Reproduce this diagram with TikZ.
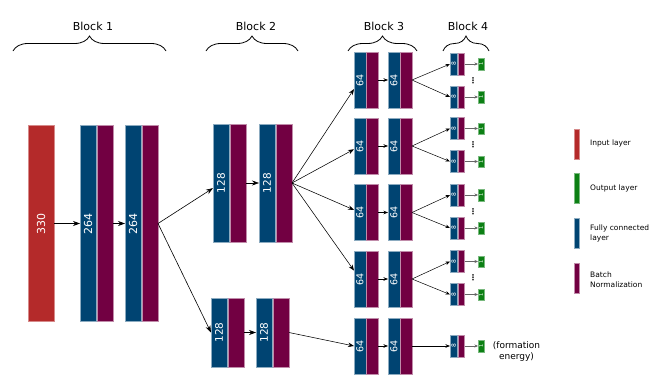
\documentclass[tikz,border=0pt]{standalone}
\usepackage{fontspec}
\setmainfont{DejaVu Sans}
\usetikzlibrary{arrows.meta,decorations.pathreplacing}
\definecolor{inred}{RGB}{180,42,42}
\definecolor{fcblue}{RGB}{0,68,114}
\definecolor{bnpurple}{RGB}{114,0,66}
\definecolor{outgreen}{RGB}{12,128,20}
\begin{document}
\begin{tikzpicture}[x=1pt,y=-1pt]
\tikzset{
  lay/.style={rectangle, inner sep=0pt, outer sep=0pt, line width=0.5pt},
  fcl/.style={lay, fill=fcblue, draw=fcblue!45!white},
  bnl/.style={lay, fill=bnpurple, draw=bnpurple!45!white},
  inl/.style={lay, fill=inred, draw=inred!55!white},
  outl/.style={lay, fill=outgreen, draw=outgreen!55!white},
  sz/.style 2 args={minimum width=#1, minimum height=#2},
  num/.style={text=white, rotate=90, inner sep=0pt},
  bigarr/.style={-{Stealth[length=7pt,width=5pt]}, line width=0.6pt},
  midarr/.style={-{Stealth[length=6pt,width=4.5pt]}, line width=0.55pt},
  smallarr/.style={-{Stealth[length=4.5pt,width=3.5pt]}, line width=0.5pt},
  outarr/.style={-{Stealth[length=3.5pt,width=3pt]}, line width=0.5pt, draw=black!60},
  bracestyle/.style={decorate, decoration={brace, amplitude=15pt}, line width=0.8pt},
  blocktitle/.style={font=\fontsize{11}{13}\selectfont},
  legtext/.style={font=\fontsize{7.5}{10}\selectfont, anchor=west, align=left, inner sep=0pt},
}
\useasboundingbox (0,0) rectangle (665,383);

% Block titles and braces
\draw[bracestyle] (13,51) -- (166,51);
\node[blocktitle] (t1) at (93,26) {Block 1};
\draw[bracestyle] (206,51) -- (298,51);
\node[blocktitle] (t2) at (256,26) {Block 2};
\draw[bracestyle] (348,51) -- (417,51);
\node[blocktitle] (t3) at (384,26) {Block 3};
\draw[bracestyle] (443,51) -- (489,51);
\node[blocktitle] (t4) at (468,26) {Block 4};

% Input layer
\node[inl, sz={26pt}{196pt}] (inp) at (41,223.5) {};
\node[num, font=\fontsize{11}{11}\selectfont] (tinp) at (inp) {330};

% Block 1
\node[fcl, sz={16pt}{196pt}] (fc1) at (88,223.5) {};
\node[bnl, sz={16pt}{196pt}] (bn1) at (105,223.5) {};
\node[num, font=\fontsize{11}{11}\selectfont] (tfc1) at (fc1) {264};
\node[fcl, sz={16pt}{196pt}] (fc2) at (133,223.5) {};
\node[bnl, sz={16pt}{196pt}] (bn2) at (150,223.5) {};
\node[num, font=\fontsize{11}{11}\selectfont] (tfc2) at (fc2) {264};

% Block 2 upper
\node[fcl, sz={16pt}{118pt}] (fcu1) at (221,183) {};
\node[bnl, sz={16pt}{118pt}] (bnu1) at (238,183) {};
\node[num, font=\fontsize{10.5}{11}\selectfont] (tfcu1) at (fcu1) {128};
\node[fcl, sz={16pt}{118pt}] (fcu2) at (267,183) {};
\node[bnl, sz={16pt}{118pt}] (bnu2) at (284,183) {};
\node[num, font=\fontsize{10.5}{11}\selectfont] (tfcu2) at (fcu2) {128};

% Block 2 lower
\node[fcl, sz={16pt}{69pt}] (fcl1) at (219,332.5) {};
\node[bnl, sz={16pt}{69pt}] (bnl1) at (236,332.5) {};
\node[num, font=\fontsize{10.5}{11}\selectfont] (tfcl1) at (fcl1) {128};
\node[fcl, sz={16pt}{69pt}] (fcl2) at (264,332.5) {};
\node[bnl, sz={16pt}{69pt}] (bnl2) at (281,332.5) {};
\node[num, font=\fontsize{10.5}{11}\selectfont] (tfcl2) at (fcl2) {128};

% Block 3
\foreach \i/\r in {1/80,2/146,3/212.5,4/279,5/346}{
  \node[fcl, sz={12pt}{56pt}] (fa\i) at (360,\r) {};
  \node[bnl, sz={11.5pt}{56pt}] (ba\i) at (372.25,\r) {};
  \node[num, font=\fontsize{9.5}{10}\selectfont] (tfa\i) at (fa\i) {64};
  \node[fcl, sz={12pt}{56pt}] (fb\i) at (394,\r) {};
  \node[bnl, sz={11.5pt}{56pt}] (bb\i) at (406.25,\r) {};
  \node[num, font=\fontsize{9.5}{10}\selectfont] (tfb\i) at (fb\i) {64};
  \draw[smallarr] (ba\i) -- (fb\i);
}

% Block 4 (two branches for rows 1-4)
\foreach \i/\r in {1/80.5,2/145,3/211.5,4/278}{
  \foreach \s/\d in {a/-16.5,b/16.5}{
    \node[fcl, sz={7.5pt}{22pt}] (fc4\i\s) at (453.75,\r+\d) {};
    \node[bnl, sz={6.5pt}{22pt}] (bn4\i\s) at (461.25,\r+\d) {};
    \node[num, font=\fontsize{6}{6}\selectfont] (tfc4\i\s) at (fc4\i\s) {8};
    \node[outl, sz={6pt}{11.5pt}] (out\i\s) at (481,\r+\d) {};
    \node[num, font=\fontsize{5}{5}\selectfont] (tout\i\s) at (out\i\s) {1};
    \draw[smallarr] (bb\i.east) -- (fc4\i\s.west);
    \draw[outarr] (bn4\i\s) -- (out\i\s);
  }
  \node[font=\bfseries\fontsize{8}{8}\selectfont, inner sep=0pt] (dots\i) at (473,\r) {⋮};
}
% Block 4 single branch for row 5
\node[fcl, sz={7.5pt}{22pt}] (fc45) at (453.75,346) {};
\node[bnl, sz={6.5pt}{22pt}] (bn45) at (461.25,346) {};
\node[num, font=\fontsize{6}{6}\selectfont] (tfc45) at (fc45) {8};
\node[outl, sz={6pt}{11.5pt}] (out5) at (481,346) {};
\node[num, font=\fontsize{5}{5}\selectfont] (tout5) at (out5) {1};
\draw[smallarr] (bb5.east) -- (fc45.west);
\draw[outarr] (bn45) -- (out5);
\node[font=\fontsize{9}{11}\selectfont, align=center, inner sep=0pt] (fe) at (516.5,352) {(formation\\energy)};

% Connectors
\draw[bigarr] (inp) -- (fc1);
\draw[bigarr] (bn1) -- (fc2);
\draw[bigarr] (bn2.east) -- (fcu1);
\draw[bigarr] (bn2.east) -- (fcl1.west);
\draw[bigarr] (bnu1) -- (fcu2);
\draw[bigarr] (bnl1) -- (fcl2);
\foreach \i in {1,2,3,4}{
  \draw[midarr] (bnu2.east) -- (fa\i);
}
\draw[midarr] (bnl2.east) -- (fa5.west);

% Legend
\node[inl, sz={5pt}{30pt}] (leg1) at (576.5,144) {};
\node[legtext] (legt1) at (590,143.5) {Input layer};
\node[outl, sz={5pt}{30pt}] (leg2) at (576.5,188.5) {};
\node[legtext] (legt2) at (590,188.5) {Output layer};
\node[fcl, sz={5pt}{30pt}] (leg3) at (576.5,233) {};
\node[legtext] (legt3) at (590,233) {Fully connected\\layer};
\node[bnl, sz={5pt}{30pt}] (leg4) at (576.5,278) {};
\node[legtext] (legt4) at (590,279.5) {Batch\\Normalization};
\end{tikzpicture}
\end{document}
